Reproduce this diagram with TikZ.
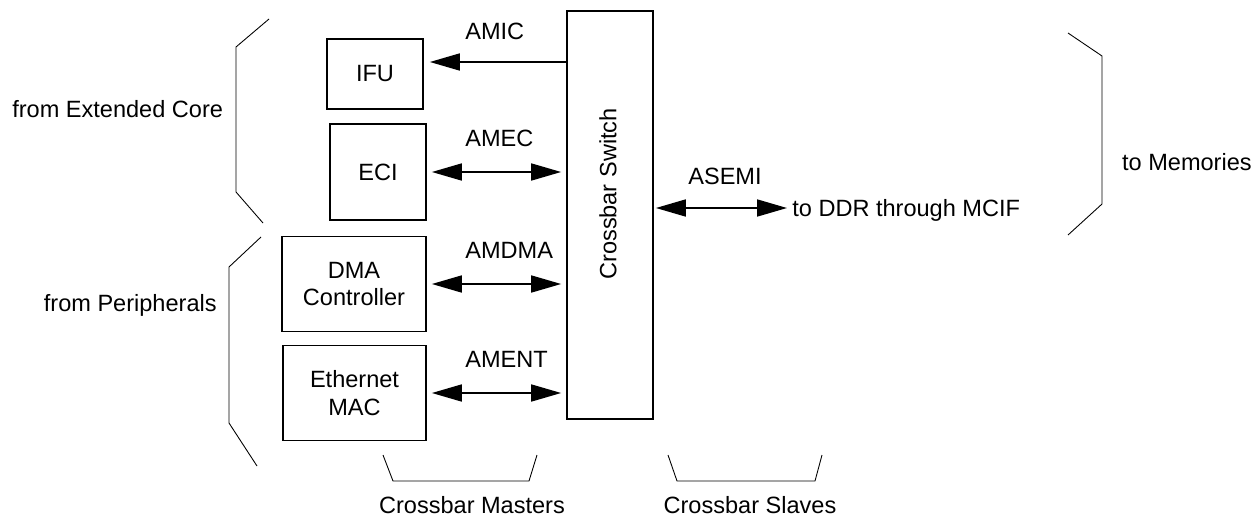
\documentclass[tikz,border=0pt]{standalone}
\usepackage{fontspec}
\setmainfont{Liberation Sans}
\usetikzlibrary{arrows.meta,calc}

\begin{document}
\begin{tikzpicture}[x=0.02cm,y=-0.02cm,
	every node/.style={font=\fontsize{13.4}{15.5}\selectfont},
	box/.style={draw, line width=1pt, inner sep=0pt, align=center},
	lbl/.style={inner sep=0pt, anchor=base west},
	sig/.style={line width=1pt, -{Triangle[length=0.6cm,width=0.34cm]}},
	bisig/.style={line width=1pt, {Triangle[length=0.6cm,width=0.34cm]}-{Triangle[length=0.6cm,width=0.34cm]}},
	brace/.style={line width=0.5pt}]
	\useasboundingbox (0,0) rectangle (1257,517);
	% masters and switch
	\node[box, minimum width=1.92cm, minimum height=1.4cm] (ifu) at (375,74) {IFU};
	\node[box, minimum width=1.92cm, minimum height=1.92cm] (eci) at (378,172) {ECI};
	\node[box, minimum width=2.88cm, minimum height=1.9cm] (dma) at (354,284) {DMA\\Controller};
	\node[box, minimum width=2.86cm, minimum height=1.9cm] (emac) at (354.5,393) {Ethernet\\MAC};
	\node[box, minimum width=1.72cm, minimum height=8.16cm] (xbar) at (610,215) {};
	\node[rotate=90] (xbarlbl) at (608,194) {Crossbar Switch};
	% bus labels
	\node[lbl] (amic) at (465,40) {AMIC};
	\node[lbl] (amec) at (465,146) {AMEC};
	\node[lbl] (amdma) at (465,258) {AMDMA};
	\node[lbl] (ament) at (465,367) {AMENT};
	\node[lbl] (asemi) at (688,184) {ASEMI};
	\node[lbl] (ddr) at (792,216) {to DDR through MCIF};
	% buses
	\coordinate (amicy) at (0,62);
	\coordinate (asemiy) at (0,208);
	\draw[sig] (xbar.west |- amicy) -- ($(ifu.east |- amicy)+(6,0)$);
	\draw[bisig] ($(eci.east)+(5,0)$) -- ($(xbar.west |- eci.east)+(-5,0)$);
	\draw[bisig] ($(dma.east)+(5,0)$) -- ($(xbar.west |- dma.east)+(-5,0)$);
	\draw[bisig] ($(emac.east)+(5,0)$) -- ($(xbar.west |- emac.east)+(-5,0)$);
	\draw[bisig] ($(xbar.east |- asemiy)+(2,0)$) -- ($(ddr.west |- asemiy)+(-5,0)$);
	% groups
	\draw[brace] (269,19) -- (236,47) -- (236,192) -- (263,223);
	\draw[brace] (261,237) -- (229,267) -- (229,423) -- (257,466);
	\draw[brace] (1068,33) -- (1102,56) -- (1102,204) -- (1068,235);
	\draw[brace] (383,455) -- (393,481) -- (529,481) -- (537,455);
	\draw[brace] (668,455) -- (677,481) -- (815,481) -- (822,455);
	\node[lbl] (core) at (12,117) {from Extended Core};
	\node[inner sep=0pt, anchor=base east] (periph) at (217,311) {from Peripherals};
	\node[inner sep=0pt, anchor=base east] (mem) at (1252,170) {to Memories};
	\node[inner sep=0pt, anchor=base] (masters) at (472,513) {Crossbar Masters};
	\node[inner sep=0pt, anchor=base] (slaves) at (750,513) {Crossbar Slaves};
\end{tikzpicture}
\end{document}
